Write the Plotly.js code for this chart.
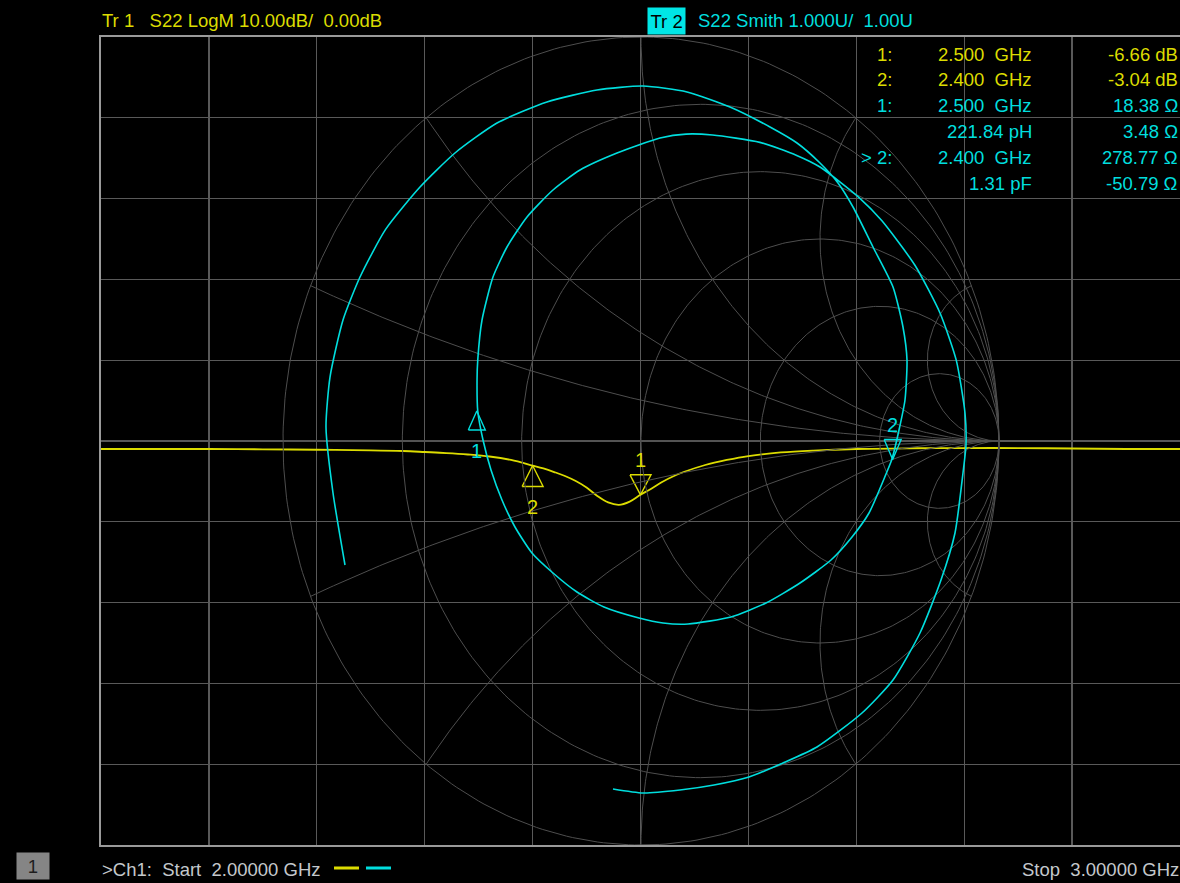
<!DOCTYPE html>
<html><head><meta charset="utf-8">
<script src="https://cdn.plot.ly/plotly-3.0.1.min.js"></script>
<style>html,body{margin:0;padding:0;background:#000;overflow:hidden}#chart{width:1180px;height:883px}</style>
</head><body><div id="chart"></div>
<script>
// ---------- Trace 1: S22 LogM (frequency in GHz, magnitude in dB) ----------
const freqGHz = [2.000,2.050,2.100,2.150,2.200,2.250,2.280,2.300,2.320,2.340,2.360,2.380,2.400,2.410,2.420,2.430,2.440,2.450,2.460,2.470,2.480,2.490,2.500,2.510,2.520,2.530,2.540,2.560,2.580,2.600,2.630,2.660,2.700,2.750,2.800,2.850,2.900,2.950,3.000];
const s22dB   = [-0.99,-0.99,-0.99,-1.03,-1.08,-1.15,-1.24,-1.36,-1.49,-1.67,-1.92,-2.35,-3.04,-3.40,-3.84,-4.33,-4.95,-5.75,-6.80,-7.60,-7.90,-7.50,-6.66,-5.90,-5.07,-4.39,-3.84,-2.97,-2.35,-1.86,-1.42,-1.18,-0.99,-0.90,-0.87,-0.87,-0.93,-0.99,-0.99];

// ---------- Trace 2: S22 Smith (reflection coefficient along the sweep) ----------
const gammaRe = [-0.8268,-0.8603,-0.8799,-0.8687,-0.8324,-0.7849,-0.7134,-0.6173,-0.5196,-0.4022,-0.2626,-0.1229,0.0056,0.1285,0.2486,0.3603,0.4358,0.5000,0.5503,0.5922,0.6480,0.7039,0.7318,0.7430,0.7374,0.7207,0.7011,0.6844,0.6369,0.5894,0.5307,0.4441,0.3492,0.2514,0.1313,0.0615,-0.0056,-0.1034,-0.1788,-0.2458,-0.3045,-0.3520,-0.3883,-0.4190,-0.4413,-0.4560,-0.4580,-0.4560,-0.4441,-0.4134,-0.3743,-0.3184,-0.2458,-0.1704,-0.0670,0.0531,0.1259,0.1998,0.3320,0.4350,0.5000,0.6100,0.6730,0.7652,0.8352,0.8806,0.9050,0.9078,0.8994,0.8771,0.8380,0.7793,0.7039,0.6173,0.4916,0.3966,0.3017,0.2039,0.1089,0.0056,-0.0782];
const gammaIm = [-0.3069,-0.1287,0.0347,0.1584,0.2995,0.4059,0.5238,0.6287,0.7129,0.7871,0.8391,0.8688,0.8787,0.8639,0.8267,0.7772,0.7376,0.6881,0.6386,0.5792,0.4802,0.3812,0.2822,0.2005,0.1015,0.0272,-0.0446,-0.0817,-0.1782,-0.2376,-0.2946,-0.3515,-0.4010,-0.4356,-0.4530,-0.4505,-0.4381,-0.4109,-0.3738,-0.3267,-0.2772,-0.2129,-0.1460,-0.0718,0.0025,0.0743,0.1510,0.2005,0.2995,0.4059,0.4802,0.5545,0.6213,0.6708,0.7129,0.7500,0.7597,0.7574,0.7392,0.7069,0.6782,0.6019,0.5450,0.4349,0.3168,0.2001,0.0693,-0.0099,-0.0792,-0.2277,-0.3441,-0.4752,-0.5916,-0.6733,-0.7574,-0.7970,-0.8317,-0.8515,-0.8639,-0.8713,-0.8614];

// ---------- Markers ----------
const markerFreqGHz = [2.500, 2.400];
const markerDB      = [-6.66, -3.04];
const markerR       = [18.38, 278.77];   // ohm
const markerX       = [3.48, -50.79];    // ohm
const markerLC      = ['221.84 pH', '1.31 pF'];
const Z0 = 50;

// ---------- Smith chart grid values ----------
const smithR = [0, 0.2, 0.5, 1, 2, 5];
const smithX = [0.2, 0.5, 1, 2, 5];

// ---------- Header / footer texts ----------
const tr1Label = 'Tr 1\u00a0\u00a0\u00a0S22 LogM 10.00dB/\u00a0\u00a00.00dB';
const tr2Tag   = 'Tr 2';
const tr2Label = 'S22 Smith 1.000U/\u00a0\u00a01.00U';
const startLabel = '>Ch1:\u00a0\u00a0Start\u00a0\u00a02.00000 GHz';
const stopLabel  = 'Stop\u00a0\u00a03.00000 GHz';
const chanLabel  = '1';

// ---------- Geometry ----------
const W = 1180, H = 883, L = 101, T = 37, PW = 1079, PH = 808;
const SX = 358, SY = 404, CX = 641;            // Smith unit-circle scale (px per unit)
const pxPerGHz = PW / 1.0, pxPerDB = PH / 100;

const YEL = '#dcdc00', CYN = '#00dede', GRID = '#595959', SGRID = '#4e4e4e';
const FONT = 'Liberation Sans, Arial, sans-serif';

// Smith grid traces
const gx = [], gy = [];
smithR.forEach(r => {
  const c = r / (1 + r), rad = 1 / (1 + r);
  for (let k = 0; k <= 360; k++) { const t = k * Math.PI / 180; gx.push(c + rad * Math.cos(t)); gy.push(rad * Math.sin(t)); }
  gx.push(null); gy.push(null);
});
smithX.forEach(xv => {
  [1, -1].forEach(s => {
    const x = xv * s, R = 1 / Math.abs(x), cy = 1 / x;
    const px = (x * x - 1) / (x * x + 1), py = 2 * x / (x * x + 1);
    let tEnd = Math.atan2(py - cy, px - 1);
    let t0;
    if (s > 0) { t0 = -Math.PI / 2; if (tEnd > t0) tEnd -= 2 * Math.PI; }
    else { t0 = Math.PI / 2; if (tEnd < t0) tEnd += 2 * Math.PI; }
    for (let k = 0; k <= 200; k++) { const t = t0 + (tEnd - t0) * k / 200; gx.push(1 + R * Math.cos(t)); gy.push(cy + R * Math.sin(t)); }
    gx.push(null); gy.push(null);
  });
});
gx.push(-1, 1); gy.push(0, 0);

// Marker gamma from impedance
const mG = markerR.map((R, i) => {
  const a = R / Z0, b = markerX[i] / Z0, den = (a + 1) * (a + 1) + b * b;
  return { re: ((a - 1) * (a + 1) + b * b) / den, im: 2 * b / den };
});

function tri(xc, yc, dir, hw, h, kx, ky) {
  const s = dir === 'down' ? 1 : -1;
  return { x: [xc - hw / kx, xc + hw / kx, xc, xc - hw / kx], y: [yc + s * h / ky, yc + s * h / ky, yc, yc + s * h / ky] };
}
const triTrace = (t, color, ax) => ({ type: 'scatter', mode: 'lines', x: t.x, y: t.y, xaxis: ax[0], yaxis: ax[1],
  line: { color: color, width: 1.4 }, hoverinfo: 'skip' });

const tY1 = tri(markerFreqGHz[0], markerDB[0], 'down', 10.5, 20, pxPerGHz, pxPerDB);
const tY2 = tri(markerFreqGHz[1], markerDB[1], 'up', 10.5, 21, pxPerGHz, pxPerDB);
const tC1 = tri(mG[0].re, mG[0].im, 'up', 8.5, 19, SX, SY);
const tC2 = tri(mG[1].re, mG[1].im, 'down', 8.5, 20, SX, SY);

const data = [
  { type: 'scatter', mode: 'lines', x: gx, y: gy, xaxis: 'x2', yaxis: 'y2', line: { color: SGRID, width: 1 }, hoverinfo: 'skip' },
  { type: 'scatter', mode: 'lines', x: gammaRe, y: gammaIm, xaxis: 'x2', yaxis: 'y2', line: { color: CYN, width: 1.6, shape: 'spline', smoothing: 0.6 }, hoverinfo: 'skip' },
  { type: 'scatter', mode: 'lines', x: freqGHz, y: s22dB, line: { color: YEL, width: 1.8, shape: 'spline', smoothing: 1 }, hoverinfo: 'skip' },
  triTrace(tY1, YEL, ['x', 'y']), triTrace(tY2, YEL, ['x', 'y']),
  triTrace(tC1, CYN, ['x2', 'y2']), triTrace(tC2, CYN, ['x2', 'y2'])
];

const px2x = p => (p - L) / PW, px2y = p => (T + PH - p) / PH;
function ann(text, px, py, anchor, color, size, extra) {
  return Object.assign({ text: text, xref: 'paper', yref: 'paper', x: px2x(px), y: px2y(py), xanchor: anchor, yanchor: 'middle',
    showarrow: false, borderpad: 0, font: { family: FONT, size: size || 18.5, color: color } }, extra || {});
}
const annotations = [
  ann(tr1Label, 101, 20, 'left', YEL),
  ann(tr2Tag, 666.5, 20.5, 'center', '#000000', 18.5, { bgcolor: '#00e6e6', borderpad: 2.5 }),
  ann(tr2Label, 697, 20, 'left', CYN),
  ann(startLabel, 101, 869, 'left', '#c4c8cc'),
  ann(stopLabel, 1180, 869, 'right', '#c4c8cc'),
  ann(chanLabel, 33, 866, 'center', '#1e1e1e', 18.5, { bgcolor: '#858585', borderpad: 0, width: 32, height: 26 })
];
// readout table
const rows = [
  [YEL, '1:', markerFreqGHz[0].toFixed(3) + '\u00a0\u00a0GHz', markerDB[0].toFixed(2) + ' dB'],
  [YEL, '2:', markerFreqGHz[1].toFixed(3) + '\u00a0\u00a0GHz', markerDB[1].toFixed(2) + ' dB'],
  [CYN, '1:', markerFreqGHz[0].toFixed(3) + '\u00a0\u00a0GHz', markerR[0].toFixed(2) + ' \u03a9'],
  [CYN, '', markerLC[0], markerX[0].toFixed(2) + ' \u03a9'],
  [CYN, '> 2:', markerFreqGHz[1].toFixed(3) + '\u00a0\u00a0GHz', markerR[1].toFixed(2) + ' \u03a9'],
  [CYN, '', markerLC[1], markerX[1].toFixed(2) + ' \u03a9']
];
rows.forEach((r, i) => {
  const y = 54 + 25.9 * i;
  if (r[1]) annotations.push(ann(r[1], 893, y, 'right', r[0]));
  annotations.push(ann(r[2], 1033, y, 'right', r[0]));
  annotations.push(ann(r[3], 1179, y, 'right', r[0]));
});
// marker labels
const lab = (t, x, y, ax, color, shift) => ({ text: t, x: x, y: y, xref: ax[0], yref: ax[1], yshift: shift, showarrow: false,
  xanchor: 'center', yanchor: 'middle', font: { family: FONT, size: 20, color: color } });
annotations.push(lab('1', markerFreqGHz[0], markerDB[0], ['x', 'y'], YEL, 35));
annotations.push(lab('2', markerFreqGHz[1], markerDB[1], ['x', 'y'], YEL, -41));
annotations.push(lab('1', mG[0].re, mG[0].im, ['x2', 'y2'], CYN, -40));
annotations.push(lab('2', mG[1].re, mG[1].im, ['x2', 'y2'], CYN, 35));

const shapes = [
  { type: 'line', xref: 'paper', yref: 'paper', x0: px2x(334), x1: px2x(359), y0: px2y(868), y1: px2y(868), line: { color: YEL, width: 3 } },
  { type: 'line', xref: 'paper', yref: 'paper', x0: px2x(366), x1: px2x(391), y0: px2y(868), y1: px2y(868), line: { color: CYN, width: 3 } }
];

const layout = {
  width: W, height: H, margin: { l: L, r: W - L - PW, t: T, b: H - T - PH, pad: 0 },
  paper_bgcolor: '#000', plot_bgcolor: '#000', showlegend: false, dragmode: false,
  xaxis: { range: [2, 3], tick0: 2, dtick: 0.1, showgrid: true, gridcolor: GRID, gridwidth: 1.2, zeroline: false,
    showticklabels: false, ticks: '', showline: true, mirror: true, linecolor: '#9a9a9a', linewidth: 2, fixedrange: true },
  yaxis: { range: [-50, 50], tick0: 0, dtick: 10, showgrid: true, gridcolor: GRID, gridwidth: 1.2, zeroline: false,
    showticklabels: false, ticks: '', showline: true, mirror: true, linecolor: '#9a9a9a', linewidth: 2, fixedrange: true },
  xaxis2: { overlaying: 'x', range: [-(CX - L) / SX, (L + PW - CX) / SX], visible: false, fixedrange: true },
  yaxis2: { overlaying: 'y', range: [-1, 1], visible: false, fixedrange: true },
  annotations: annotations, shapes: shapes
};
Plotly.newPlot('chart', data, layout, { staticPlot: true, displayModeBar: false });
</script></body></html>
